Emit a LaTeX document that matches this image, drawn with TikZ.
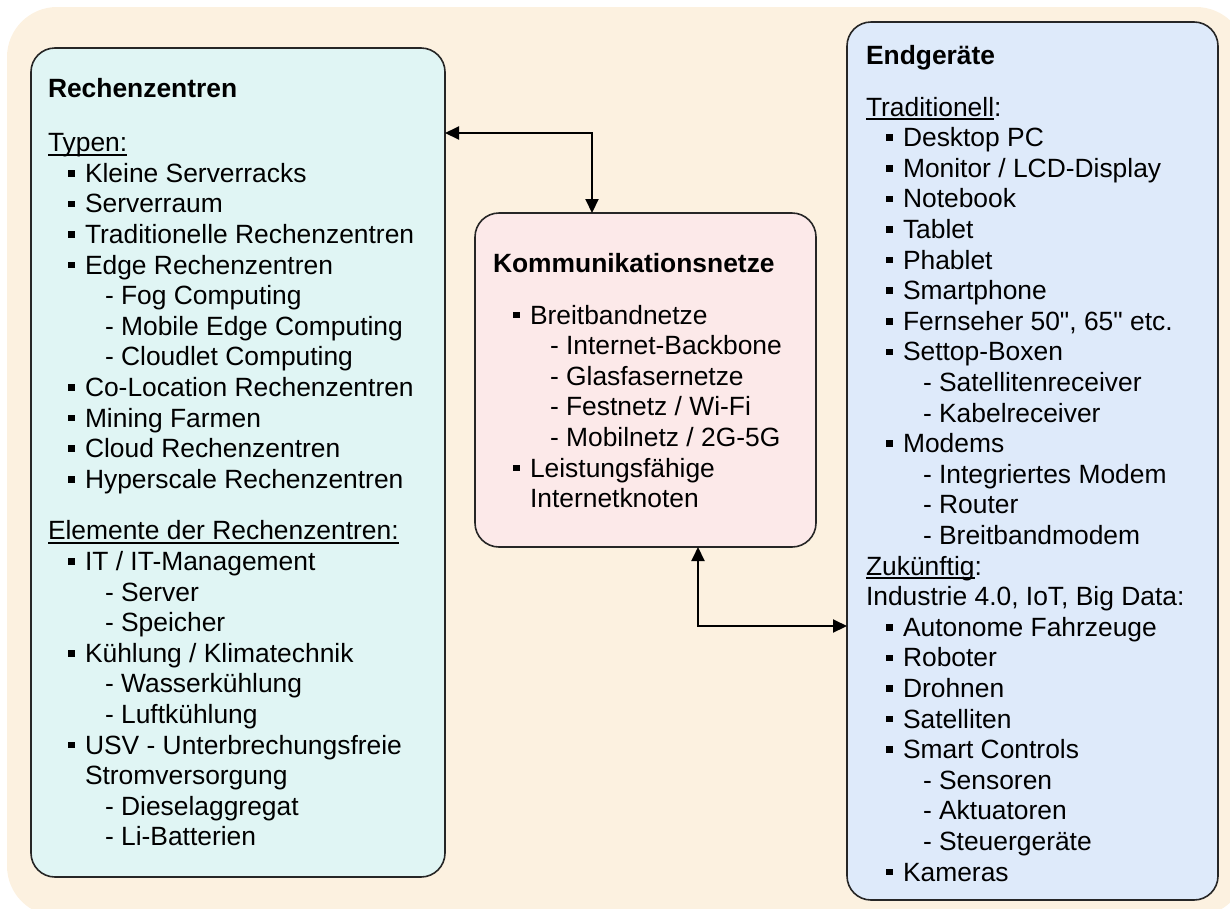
\documentclass[tikz,border=0pt]{standalone}
\usepackage{fontspec}
\setmainfont{Liberation Sans}[Ligatures=TeXOff]
\usetikzlibrary{arrows.meta}
\definecolor{bgc}{HTML}{FCF1E0}
\definecolor{lboxc}{HTML}{E0F5F4}
\definecolor{mboxc}{HTML}{FCE9E9}
\definecolor{rboxc}{HTML}{DEEAFA}
\newcommand\myul[1]{\sbox0{#1}\rlap{\rule[-4pt]{\wd0}{1.7pt}}\usebox0}
\newcommand\bitem{\hspace*{20pt}\makebox[17pt][l]{\rule[5.6pt]{6.7pt}{6.7pt}}}
\newcommand\ditem{\hspace*{57pt}- }
\newcommand\citem{\hspace*{37pt}}
\begin{document}
\begin{tikzpicture}[x=1pt,y=-1pt,
  boxst/.style={rectangle, draw=black!85, line width=1.6pt, rounded corners=24pt,
    inner sep=0pt, outer sep=0pt, anchor=north west},
  txt/.style={anchor=base west, inner sep=0pt, outer sep=0pt,
    font=\fontsize{26.4pt}{30.6pt}\selectfont},
  conn/.style={line width=2pt, draw=black,
    {Triangle[length=14pt,width=13pt]}-{Triangle[length=14pt,width=13pt]}}]
\useasboundingbox (0,0) rectangle (1230,908);
\fill[bgc, rounded corners=50pt] (7,7) rectangle (1246,916);

% boxes
\node[boxst, fill=lboxc, minimum width=414pt, minimum height=829pt] (Lbox) at (31,48) {};
\node[boxst, fill=mboxc, minimum width=341pt, minimum height=334pt] (Mbox) at (475,213) {};
\node[boxst, fill=rboxc, minimum width=371pt, minimum height=878pt] (Rbox) at (847,22) {};

% connectors
\coordinate (t1) at (592,133);
\coordinate (t2) at (698,626);
\draw[conn] (Lbox.east |- t1) -- (t1) -- (Mbox.north -| t1);
\draw[conn] (Mbox.south -| t2) -- (t2) -- (Rbox.west |- t2);

% texts
\node[txt] (Ltxt) at (48,97) {\parbox[t]{390pt}{%
\textbf{Rechenzentren}\\[24pt]
\myul{Typen:}\\
\bitem Kleine Serverracks\\
\bitem Serverraum\\
\bitem Traditionelle Rechenzentren\\
\bitem Edge Rechenzentren\\
\ditem Fog Computing\\
\ditem Mobile Edge Computing\\
\ditem Cloudlet Computing\\
\bitem Co-Location Rechenzentren\\
\bitem Mining Farmen\\
\bitem Cloud Rechenzentren\\
\bitem Hyperscale Rechenzentren\\[21pt]
\myul{Elemente der Rechenzentren:}\\
\bitem IT / IT-Management\\
\ditem Server\\
\ditem Speicher\\
\bitem Kühlung / Klimatechnik\\
\ditem Wasserkühlung\\
\ditem Luftkühlung\\
\bitem USV - Unterbrechungsfreie\\
\citem Stromversorgung\\
\ditem Dieselaggregat\\
\ditem Li-Batterien}};

\node[txt] (Mtxt) at (493,272) {\parbox[t]{320pt}{%
\textbf{Kommunikationsnetze}\\[21.4pt]
\bitem Breitbandnetze\\
\ditem Internet-Backbone\\
\ditem Glasfasernetze\\
\ditem Festnetz / Wi-Fi\\
\ditem Mobilnetz / 2G-5G\\
\bitem Leistungsfähige\\
\citem Internetknoten}};

\node[txt] (Rtxt) at (866,64) {\parbox[t]{350pt}{%
\textbf{Endgeräte}\\[21.4pt]
\myul{Traditionell}:\\
\bitem Desktop PC\\
\bitem Monitor / LCD-Display\\
\bitem Notebook\\
\bitem Tablet\\
\bitem Phablet\\
\bitem Smartphone\\
\bitem Fernseher 50", 65" etc.\\
\bitem Settop-Boxen\\
\ditem Satellitenreceiver\\
\ditem Kabelreceiver\\
\bitem Modems\\
\ditem Integriertes Modem\\
\ditem Router\\
\ditem Breitbandmodem\\
\myul{Zukünftig}:\\
Industrie 4.0, IoT, Big Data:\\
\bitem Autonome Fahrzeuge\\
\bitem Roboter\\
\bitem Drohnen\\
\bitem Satelliten\\
\bitem Smart Controls\\
\ditem Sensoren\\
\ditem Aktuatoren\\
\ditem Steuergeräte\\
\bitem Kameras}};
\end{tikzpicture}
\end{document}
